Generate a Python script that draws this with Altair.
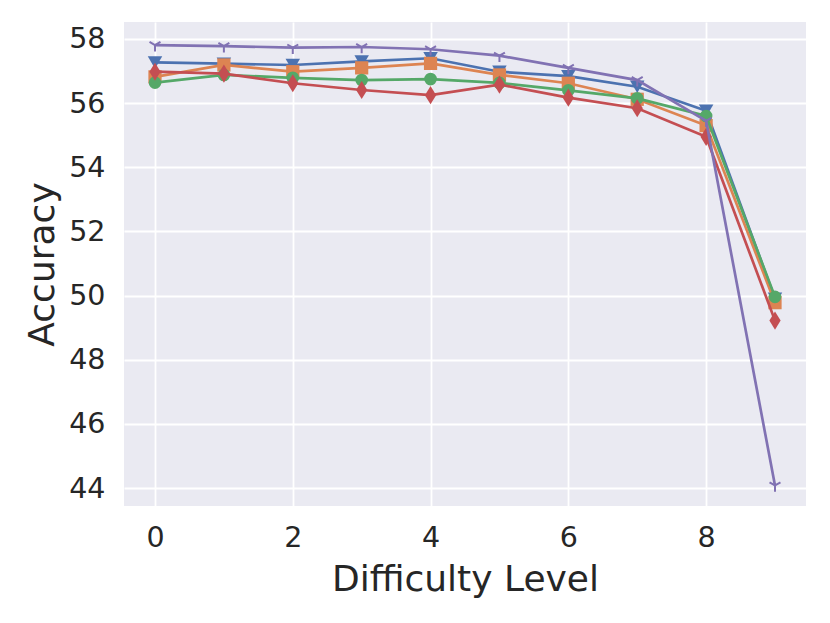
import altair as alt
import pandas as pd

levels = [0, 1, 2, 3, 4, 5, 6, 7, 8, 9]
blue_v = [57.27, 57.23, 57.19, 57.30, 57.40, 56.98, 56.84, 56.51, 55.76, 49.90]
orange_v = [56.82, 57.19, 56.98, 57.10, 57.24, 56.88, 56.62, 56.12, 55.30, 49.78]
green_v = [56.64, 56.88, 56.79, 56.72, 56.75, 56.63, 56.40, 56.15, 55.60, 49.96]
red_v = [56.98, 56.92, 56.62, 56.41, 56.25, 56.58, 56.17, 55.84, 54.95, 49.22]
purple_v = [57.81, 57.78, 57.73, 57.75, 57.68, 57.48, 57.10, 56.72, 55.45, 44.08]

series = [
    ("s1", blue_v, "#4C72B0", "triangle-down", 210, True),
    ("s2", orange_v, "#DD8452", "square", 175, True),
    ("s3", green_v, "#55A868", "circle", 160, True),
    ("s4", red_v, "#C44E52", "M0,-1L0.62,0L0,1L-0.62,0Z", 330, True),
    ("s5", purple_v, "#8172B3", "M0,0L0,1M0,0L-0.866,-0.5M0,0L0.866,-0.5", 160, False),
]

xs = alt.Scale(domain=[-0.45, 9.45], nice=False, zero=False)
ys = alt.Scale(domain=[43.44, 58.53], nice=False, zero=False)

x_axis = alt.Axis(values=[0, 2, 4, 6, 8], title="Difficulty Level", ticks=False, domain=False,
                  labelPadding=17, labelFontSize=28.5, titleFontSize=36, labelAngle=0,
                  titleBaseline="alphabetic", titleY=84, labelColor="#262626", titleColor="#262626",
                  titleFontWeight="normal", gridColor="white", gridWidth=1.8, grid=True)
y_axis = alt.Axis(values=[44, 46, 48, 50, 52, 54, 56, 58], title="Accuracy", ticks=False, domain=False,
                  labelPadding=19, labelFontSize=28.5, titleFontSize=36,
                  titleBaseline="alphabetic", titleX=-71, titleY=242, titleAngle=-90,
                  labelColor="#262626", titleColor="#262626", titleFontWeight="normal",
                  gridColor="white", gridWidth=1.8, grid=True)

layers = []
for i, (name, vals, color, shape, size, filled) in enumerate(series):
    df = pd.DataFrame({"level": levels, "acc": vals})
    enc = dict(
        x=alt.X("level:Q", scale=xs, axis=x_axis),
        y=alt.Y("acc:Q", scale=ys, axis=y_axis),
    )
    line = alt.Chart(df).mark_line(color=color, strokeWidth=2.7).encode(**enc)
    if filled:
        pts = alt.Chart(df).mark_point(shape=shape, size=size, filled=True, color=color, opacity=1,
                                       strokeWidth=0).encode(**enc)
    else:
        pts = alt.Chart(df).mark_point(shape=shape, size=size, filled=False, color=color, opacity=1,
                                       strokeWidth=2).encode(**enc)
    layers += [line, pts]

chart = alt.layer(*layers).properties(
    width=682, height=484,
    autosize=alt.AutoSizeParams(type="none"),
    padding={"left": 116, "top": 14, "right": 16, "bottom": 109},
).configure(font="DejaVu Sans").configure_view(fill="#EAEAF2", stroke=None)

chart.save("out.html", embed_options={"renderer": "svg", "actions": False})
